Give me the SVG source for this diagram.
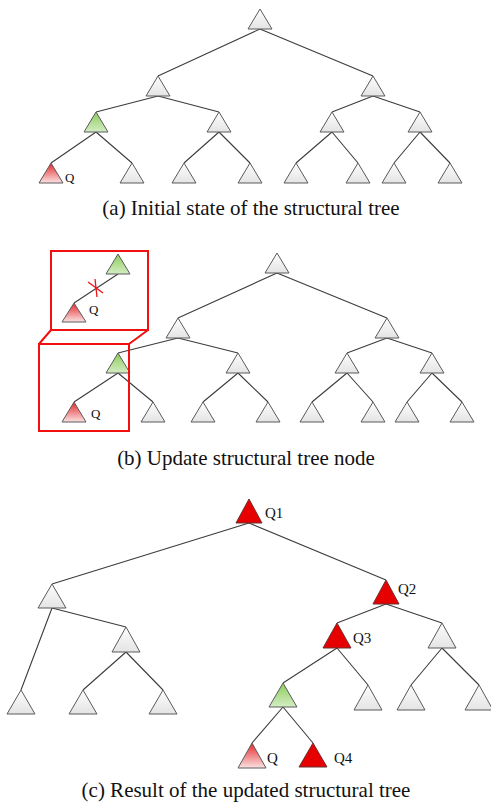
<svg xmlns="http://www.w3.org/2000/svg" width="491" height="807" viewBox="0 0 491 807">
<defs>
<linearGradient id="gW" x1="0" y1="0" x2="0" y2="1"><stop offset="0" stop-color="#fdfdfd"/><stop offset="1" stop-color="#e4e4e4"/></linearGradient>
<linearGradient id="gG" x1="0" y1="0" x2="0" y2="1"><stop offset="0" stop-color="#8ccc5a"/><stop offset="1" stop-color="#d4edc4"/></linearGradient>
<linearGradient id="gR" x1="0" y1="0" x2="0" y2="1"><stop offset="0" stop-color="#e4282c"/><stop offset="1" stop-color="#fbe2e2"/></linearGradient>
</defs>
<style>
.w{fill:url(#gW);stroke:#5a5a5a;stroke-width:1}
.g{fill:url(#gG);stroke:#5a5a5a;stroke-width:1}
.r{fill:url(#gR);stroke:#5a5a5a;stroke-width:1}
.s{fill:#e60000;stroke:#6a3030;stroke-width:1}
.e{stroke:#3c3c3c;stroke-width:1.1;fill:none}
.box{fill:none;stroke:#f01010;stroke-width:2}
.cap{font-family:"Liberation Serif","Times New Roman",serif;font-size:21px;fill:#111}
.lb{font-family:"Liberation Serif","Times New Roman",serif;font-size:13px;fill:#111}
.lc{font-family:"Liberation Serif","Times New Roman",serif;font-size:15px;fill:#111}
</style>
<rect width="491" height="807" fill="#fff"/>

<!-- Panel (a) -->
<g id="a-edges">
<path class="e" d="M260 29L158 76M260 29L373 76M158 96L96 112M158 96L219 112M373 96L332 112M373 96L420 112M96 132L51 163M96 132L132 163M219 132L184 163M219 132L250 163M332 132L296 163M332 132L358 163M420 132L394 163M420 132L450 163"/>
</g>
<g id="a-root"><polygon class="w" points="260,9 248,29 272,29"/></g>
<g id="a-n1"><polygon class="w" points="158,76 146,96 170,96"/></g>
<g id="a-n2"><polygon class="w" points="373,76 361,96 385,96"/></g>
<g id="a-n3"><polygon class="g" points="96,112 84,132 108,132"/></g>
<g id="a-n4"><polygon class="w" points="219,112 207,132 231,132"/></g>
<g id="a-n5"><polygon class="w" points="332,112 320,132 344,132"/></g>
<g id="a-n6"><polygon class="w" points="420,112 408,132 432,132"/></g>
<g id="a-q"><polygon class="r" points="51,163 39,183 63,183"/><text class="lb" x="65" y="182">Q</text></g>
<g id="a-l2"><polygon class="w" points="132,163 120,183 144,183"/></g>
<g id="a-l3"><polygon class="w" points="184,163 172,183 196,183"/></g>
<g id="a-l4"><polygon class="w" points="250,163 238,183 262,183"/></g>
<g id="a-l5"><polygon class="w" points="296,163 284,183 308,183"/></g>
<g id="a-l6"><polygon class="w" points="358,163 346,183 370,183"/></g>
<g id="a-l7"><polygon class="w" points="394,163 382,183 406,183"/></g>
<g id="a-l8"><polygon class="w" points="450,163 438,183 462,183"/></g>
<text class="cap" x="251" y="215" text-anchor="middle">(a) Initial state of the structural tree</text>

<!-- Panel (b) -->
<g id="b-edges">
<path class="e" d="M277 273L178 318M277 273L387 318M178 338L118 353M178 338L238 353M387 338L347 353M387 338L432 353M118 373L74 402M118 373L153 402M238 373L203 402M238 373L268 402M347 373L312 402M347 373L373 402M432 373L407 402M432 373L462 402"/>
</g>
<g id="b-root"><polygon class="w" points="277,253 265,273 289,273"/></g>
<g id="b-n1"><polygon class="w" points="178,318 166,338 190,338"/></g>
<g id="b-n2"><polygon class="w" points="387,318 375,338 399,338"/></g>
<g id="b-n3"><polygon class="g" points="118,353 106,373 130,373"/></g>
<g id="b-n4"><polygon class="w" points="238,353 226,373 250,373"/></g>
<g id="b-n5"><polygon class="w" points="347,353 335,373 359,373"/></g>
<g id="b-n6"><polygon class="w" points="432,353 420,373 444,373"/></g>
<g id="b-q"><polygon class="r" points="74,402 62,422 86,422"/><text class="lb" x="91" y="418">Q</text></g>
<g id="b-l2"><polygon class="w" points="153,402 141,422 165,422"/></g>
<g id="b-l3"><polygon class="w" points="203,402 191,422 215,422"/></g>
<g id="b-l4"><polygon class="w" points="268,402 256,422 280,422"/></g>
<g id="b-l5"><polygon class="w" points="312,402 300,422 324,422"/></g>
<g id="b-l6"><polygon class="w" points="373,402 361,422 385,422"/></g>
<g id="b-l7"><polygon class="w" points="407,402 395,422 419,422"/></g>
<g id="b-l8"><polygon class="w" points="462,402 450,422 474,422"/></g>
<g id="b-zoom">
<rect class="box" x="51" y="251" width="97" height="79"/>
<rect class="box" x="39" y="344" width="90" height="87"/>
<path class="box" d="M51 330L39 344M148 330L129 344"/>
<path class="e" d="M118 274L74 303"/>
<polygon class="g" points="118,254 106,274 130,274"/>
<polygon class="r" points="74,303 62,322 86,322"/>
<path d="M88 282L103 293M95 279L97 297" stroke="#f01010" stroke-width="1.3" fill="none"/>
<text class="lb" x="89" y="314">Q</text>
</g>
<text class="cap" x="246" y="465" text-anchor="middle">(b) Update structural tree node</text>

<!-- Panel (c) -->
<g id="c-edges">
<path class="e" d="M249 523L52 584M249 523L386 580M52 608L21 690M52 608L126 627M126 652L83 690M126 652L163 690M386 604L337 623M386 604L442 623M337 648L283 683M337 648L368 685M442 648L411 685M442 648L479 685M283 707L252 743M283 707L313 743"/>
</g>
<g id="c-root"><polygon class="s" points="249,499 236,523 262,523"/><text class="lc" x="265" y="518">Q1</text></g>
<g id="c-n1"><polygon class="w" points="52,584 38,608 66,608"/></g>
<g id="c-q2"><polygon class="s" points="386,580 373,604 399,604"/><text class="lc" x="398" y="594">Q2</text></g>
<g id="c-n3"><polygon class="w" points="126,627 112,652 140,652"/></g>
<g id="c-q3"><polygon class="s" points="337,623 323,648 351,648"/><text class="lc" x="353" y="643">Q3</text></g>
<g id="c-n5"><polygon class="w" points="442,623 428,648 456,648"/></g>
<g id="c-l1"><polygon class="w" points="21,690 7,714 35,714"/></g>
<g id="c-l2"><polygon class="w" points="83,690 69,714 97,714"/></g>
<g id="c-l3"><polygon class="w" points="163,690 149,714 177,714"/></g>
<g id="c-g"><polygon class="g" points="283,683 269,707 297,707"/></g>
<g id="c-l4"><polygon class="w" points="368,685 354,710 382,710"/></g>
<g id="c-l5"><polygon class="w" points="411,685 397,710 425,710"/></g>
<g id="c-l6"><polygon class="w" points="479,685 465,710 493,710"/></g>
<g id="c-q"><polygon class="r" points="252,743 238,768 266,768"/><text class="lc" x="267" y="763">Q</text></g>
<g id="c-q4"><polygon class="s" points="313,743 299,767 327,767"/><text class="lc" x="334" y="763">Q4</text></g>
<text class="cap" x="246" y="797" text-anchor="middle">(c) Result of the updated structural tree</text>
</svg>
